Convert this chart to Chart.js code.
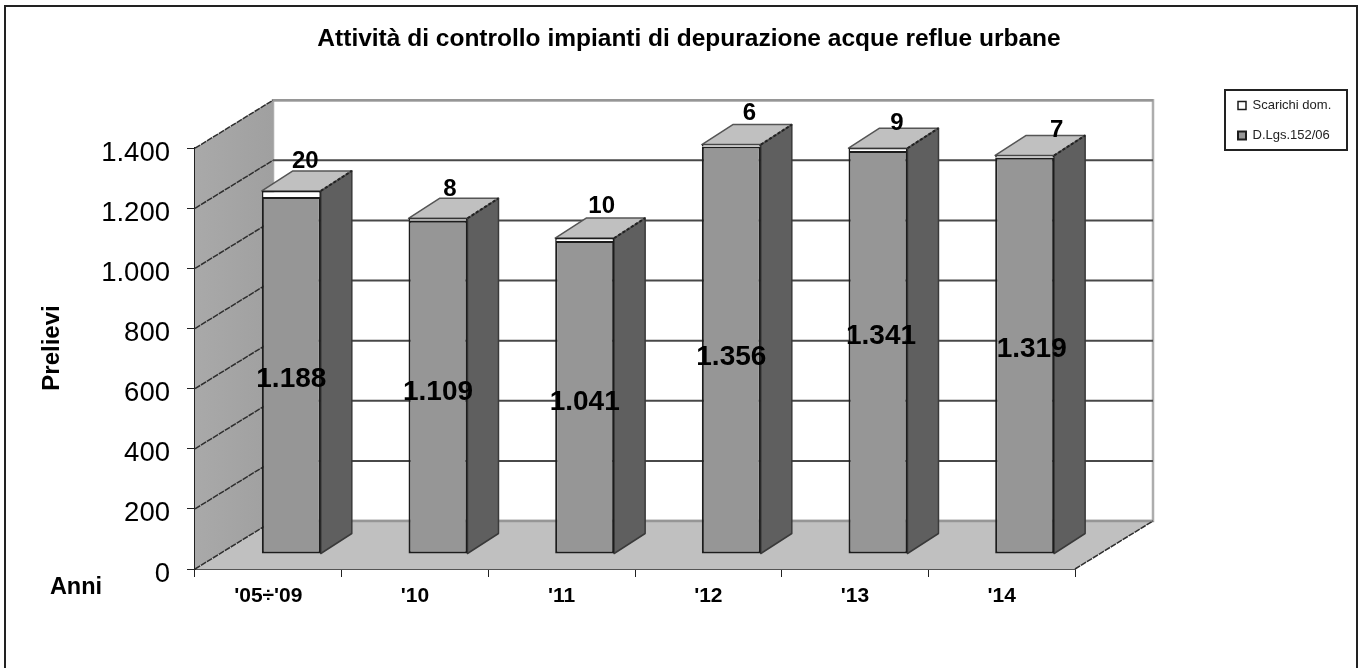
<!DOCTYPE html>
<html>
<head>
<meta charset="utf-8">
<script src="https://cdn.jsdelivr.net/npm/chart.js@4/dist/chart.umd.js"></script>
<style>
  html, body { margin: 0; padding: 0; background: #fff; }
  #wrap { width: 1362px; height: 668px; }
</style>
</head>
<body>
<div id="wrap"><canvas id="chart" width="1362" height="668"></canvas></div>
<script>
const categories = ["'05÷'09", "'10", "'11", "'12", "'13", "'14"];
const dlgsValues = [1188, 1109, 1041, 1356, 1341, 1319];
const scarichiValues = [20, 8, 10, 6, 9, 7];
const yTicks = [0, 200, 400, 600, 800, 1000, 1200, 1400];

// look of the fake 3D box
const WALL_DX = 78, WALL_DY = -48;
const BAR_DX = 23, BAR_DY = -15;
const SIDE_DX = 31, SIDE_DY = -20;
const DARK = '#1c1c1c';
const FONT = '"Liberation Sans", Arial, sans-serif';

// hand placed labels in the original, so nudge them the same way
const labelNudge = [[0, 4], [0, 5], [0, 5], [0, 7], [3, -16], [7, -6]];
const topNudge = [[0, 1], [-2, 2], [3, -1], [4, 0], [5, 6], [18, 6]];

const fmt = v => (v >= 1000 ? Math.floor(v / 1000) + '.' + String(v % 1000).padStart(3, '0') : String(v));

function poly(ctx, pts, fill, stroke, lw) {
    ctx.beginPath();
    pts.forEach((p, i) => i ? ctx.lineTo(p[0], p[1]) : ctx.moveTo(p[0], p[1]));
    ctx.closePath();
    if (fill) { ctx.fillStyle = fill; ctx.fill(); }
    if (stroke) { ctx.strokeStyle = stroke; ctx.lineWidth = lw || 1; ctx.stroke(); }
}

function text(ctx, str, x, y, font, rot) {
    ctx.save();
    ctx.translate(x, y);
    if (rot) ctx.rotate(rot);
    ctx.font = font;
    ctx.fillStyle = '#000';
    ctx.textAlign = 'center';
    ctx.textBaseline = 'middle';
    ctx.fillText(str, 0, 0);
    ctx.restore();
}

const box3d = {
    id: 'box3d',
    beforeDraw(chart) {
        // legend sits outside the plot, put it where the original has it
        const lg = chart.legend;
        lg.left = 1221; lg.right = 1400; lg.top = 82; lg.bottom = 220;
        lg.adjustHitBoxes();

        // title is not centred on the canvas in the original
        const tb = chart.titleBlock;
        tb.left = 16; tb.right = 1362;

        const ctx = chart.ctx;
        ctx.save();
        ctx.fillStyle = '#fff';
        ctx.fillRect(0, 0, chart.width, chart.height);
        ctx.strokeStyle = '#222';
        ctx.lineWidth = 2;
        ctx.strokeRect(5, 6, 1352, 670);
        ctx.fillStyle = '#fff';
        ctx.fillRect(1225, 90, 122, 60);
        ctx.strokeRect(1225, 90, 122, 60);
        ctx.restore();
    },
    beforeDatasetsDraw(chart) {
        const ctx = chart.ctx, a = chart.chartArea, y = chart.scales.y;
        ctx.save();
        // back wall
        poly(ctx, [[a.left + WALL_DX, a.top + WALL_DY], [a.right + WALL_DX, a.top + WALL_DY],
                   [a.right + WALL_DX, a.bottom + WALL_DY], [a.left + WALL_DX, a.bottom + WALL_DY]], '#fff', '#adadad', 2.5);
        // left wall
        const grad = ctx.createLinearGradient(a.left, 0, a.left + WALL_DX, 0);
        grad.addColorStop(0, '#a9a9a9');
        grad.addColorStop(1, '#a0a0a0');
        poly(ctx, [[a.left, a.top], [a.left + WALL_DX, a.top + WALL_DY],
                   [a.left + WALL_DX, a.bottom + WALL_DY], [a.left, a.bottom]], grad);
        // floor
        poly(ctx, [[a.left, a.bottom], [a.left + WALL_DX, a.bottom + WALL_DY],
                   [a.right + WALL_DX, a.bottom + WALL_DY], [a.right, a.bottom]], '#c0c0c0');
        // grid lines, wall diagonal + back wall
        yTicks.forEach(t => {
            const py = y.getPixelForValue(t);
            ctx.strokeStyle = '#2e2e2e';
            ctx.lineWidth = 1.5;
            ctx.setLineDash([6, 1]);
            ctx.beginPath();
            ctx.moveTo(a.left, py);
            ctx.lineTo(a.left + WALL_DX, py + WALL_DY);
            ctx.stroke();
            ctx.setLineDash([]);
            const isEdge = t === 0 || t === yTicks[yTicks.length - 1];
            ctx.strokeStyle = isEdge ? '#969696' : '#484848';
            ctx.lineWidth = isEdge ? 2.5 : 2;
            ctx.beginPath();
            ctx.moveTo(a.left + WALL_DX, py + WALL_DY);
            ctx.lineTo(a.right + WALL_DX, py + WALL_DY);
            ctx.stroke();
        });
        // right edge of the floor
        ctx.strokeStyle = '#2e2e2e';
        ctx.lineWidth = 1.5;
        ctx.setLineDash([6, 1]);
        ctx.beginPath();
        ctx.moveTo(a.right, a.bottom);
        ctx.lineTo(a.right + WALL_DX, a.bottom + WALL_DY);
        ctx.stroke();
        ctx.restore();

        // side and top faces come from the bar elements, pushed back into the box
        const lower = chart.getDatasetMeta(0).data, upper = chart.getDatasetMeta(1).data;
        ctx.save();
        ctx.translate(BAR_DX, BAR_DY);
        ctx.lineJoin = 'round';
        lower.forEach((bar, i) => {
            const r = bar.x + bar.width / 2, l = bar.x - bar.width / 2;
            const top = upper[i].y, base = bar.base;
            poly(ctx, [[r, top], [r + SIDE_DX, top + SIDE_DY], [r + SIDE_DX, base + SIDE_DY], [r, base]], '#5f5f5f', '#3a3a3a', 1.5);
            poly(ctx, [[l, top], [l + SIDE_DX, top + SIDE_DY], [r + SIDE_DX, top + SIDE_DY], [r, top]], '#c0c0c0', '#555', 1.5);
            // the shared top/side edge is jagged in the original
            ctx.strokeStyle = '#222';
            ctx.lineWidth = 2;
            ctx.setLineDash([3, 2]);
            ctx.beginPath();
            ctx.moveTo(r, top);
            ctx.lineTo(r + SIDE_DX, top + SIDE_DY);
            ctx.stroke();
            ctx.setLineDash([]);
        });
    },
    afterDatasetsDraw(chart) {
        const ctx = chart.ctx;
        ctx.restore();
        const lower = chart.getDatasetMeta(0).data, upper = chart.getDatasetMeta(1).data;
        lower.forEach((bar, i) => {
            const cx = bar.x + BAR_DX;
            text(ctx, fmt(dlgsValues[i]), cx + labelNudge[i][0], (bar.y + bar.base) / 2 + BAR_DY + labelNudge[i][1], 'bold 28px ' + FONT);
            text(ctx, fmt(scarichiValues[i]), cx + 14 + topNudge[i][0], upper[i].y + BAR_DY - 31 + topNudge[i][1], 'bold 24px ' + FONT);
        });
        text(ctx, 'Prelievi', 52, 348, 'bold 24px ' + FONT, -Math.PI / 2);
        text(ctx, 'Anni', 76, 588, 'bold 23.5px ' + FONT);
    }
};

new Chart(document.getElementById('chart'), {
    type: 'bar',
    plugins: [box3d],
    data: {
        labels: categories,
        datasets: [
            { label: 'D.Lgs.152/06', data: dlgsValues, backgroundColor: '#969696', borderColor: DARK, borderWidth: 2, borderSkipped: false },
            { label: 'Scarichi dom.', data: scarichiValues, backgroundColor: '#ffffff', borderColor: DARK, borderWidth: 1.5, borderSkipped: 'bottom' }
        ]
    },
    options: {
        responsive: false,
        animation: false,
        layout: { padding: { left: 60, right: 287, top: 0, bottom: 0 } },
        datasets: { bar: { categoryPercentage: 1, barPercentage: 0.402 } },
        scales: {
            x: {
                stacked: true,
                border: { color: '#555', width: 2 },
                grid: { offset: true, drawOnChartArea: false, drawTicks: true, tickLength: 8, color: '#222' },
                ticks: { color: '#000', font: { family: FONT, size: 21, weight: 'bold' }, padding: 7, maxRotation: 0 },
                afterFit(scale) { scale.height = 668 - 569; }
            },
            y: {
                stacked: true,
                min: 0,
                max: 1400,
                border: { color: '#222', width: 2 },
                grid: { drawOnChartArea: false, drawTicks: true, tickLength: 8, color: '#222' },
                ticks: {
                    stepSize: 200,
                    color: '#000',
                    font: { family: FONT, size: 27.5 },
                    padding: 17,
                    labelOffset: 5,
                    callback: v => fmt(v)
                },
                afterFit(scale) { scale.width = 135; }
            }
        },
        plugins: {
            title: {
                display: true,
                text: 'Attività di controllo impianti di depurazione acque reflue urbane',
                color: '#000',
                font: { family: FONT, size: 24.5, weight: 'bold' },
                padding: { top: 25, bottom: 93.8 }
            },
            legend: {
                position: 'chartArea',
                align: 'start',
                reverse: true,
                labels: {
                    boxWidth: 8,
                    boxHeight: 8,
                    color: '#222',
                    padding: 17,
                    font: { family: FONT, size: 13 }
                }
            },
            tooltip: { enabled: false }
        }
    }
});
</script>
</body>
</html>
